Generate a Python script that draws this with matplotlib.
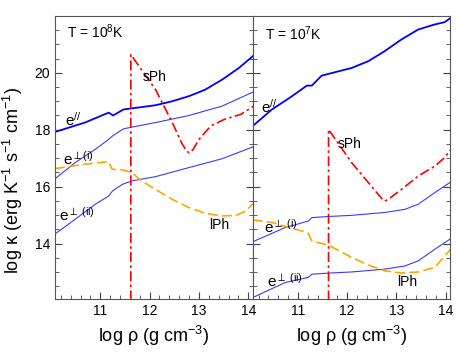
import numpy as np
import matplotlib
matplotlib.use('Agg')
import matplotlib.pyplot as plt
from matplotlib.ticker import MultipleLocator

plt.rcParams['font.family'] = ['Liberation Sans', 'DejaVu Sans']
plt.rcParams['mathtext.fontset'] = 'custom'
plt.rcParams['mathtext.rm'] = 'Liberation Sans'
plt.rcParams['mathtext.it'] = 'Liberation Sans:italic'

# ---- T = 1e8 K (left panel) ----
l_epar_x = [10.08, 10.69, 11.17, 11.26, 11.47, 11.64, 12.12, 12.46, 12.8, 13.13, 13.47, 13.81, 14.13]
l_epar_y = [17.92, 18.25, 18.6, 18.5, 18.71, 18.75, 18.86, 19.0, 19.18, 19.41, 19.76, 20.17, 20.64]
l_ei_x = [10.08, 10.49, 10.9, 11.17, 11.25, 11.47, 11.64, 12.12, 12.8, 13.47, 14.13]
l_ei_y = [16.27, 16.84, 17.31, 17.66, 17.78, 18.03, 18.09, 18.25, 18.5, 18.83, 19.35]
l_eii_x = [10.08, 10.49, 10.9, 11.17, 11.25, 11.45, 11.64, 12.12, 12.8, 13.47, 14.13]
l_eii_y = [14.33, 14.85, 15.38, 15.67, 15.85, 16.08, 16.2, 16.35, 16.67, 16.98, 17.42]
l_lph_x = [10.08, 10.66, 11.17, 11.24, 11.47, 11.64, 11.84, 12.12, 12.46, 12.8, 13.13, 13.47, 13.75, 13.95, 14.13]
l_lph_y = [16.63, 16.78, 16.88, 16.61, 16.58, 16.49, 16.2, 15.9, 15.55, 15.26, 15.06, 14.97, 14.99, 15.14, 15.46]
l_sph_x = [11.62, 11.62, 12.12, 12.46, 12.66, 12.74, 12.8, 12.88, 13.0, 13.24, 13.51, 13.85, 14.13]
l_sph_y = [12.0, 20.64, 19.41, 18.25, 17.5, 17.28, 17.18, 17.3, 17.66, 18.13, 18.36, 18.54, 18.85]

# ---- T = 1e7 K (right panel) ----
r_epar_x = [10.08, 10.47, 10.88, 11.18, 11.28, 11.48, 11.75, 12.09, 12.43, 12.76, 13.1, 13.44, 13.78, 13.98, 14.1]
r_epar_y = [18.13, 18.71, 19.18, 19.55, 19.55, 19.9, 20.02, 20.17, 20.41, 20.76, 21.17, 21.52, 21.7, 21.78, 21.93]
r_ei_x = [10.08, 10.74, 11.21, 11.28, 11.62, 12.09, 12.76, 13.17, 13.44, 13.78, 14.1]
r_ei_y = [14.06, 14.56, 14.79, 14.91, 14.95, 14.99, 15.09, 15.2, 15.38, 15.79, 16.16]
r_eii_x = [10.08, 10.74, 11.21, 11.28, 11.62, 12.09, 12.76, 13.17, 13.44, 13.78, 14.1]
r_eii_y = [12.1, 12.63, 12.81, 12.92, 12.96, 13.0, 13.1, 13.21, 13.39, 13.8, 14.17]
r_lph_x = [10.08, 10.47, 10.74, 11.08, 11.2, 11.28, 11.62, 12.09, 12.43, 12.76, 13.1, 13.44, 13.78, 14.1]
r_lph_y = [14.83, 14.74, 14.6, 14.44, 14.39, 14.09, 13.94, 13.51, 13.24, 13.04, 12.96, 13.0, 13.16, 13.8]
r_sph_x = [11.62, 11.62, 12.09, 12.43, 12.7, 12.76, 12.84, 13.1, 13.44, 13.78, 13.98, 14.1]
r_sph_y = [12.0, 18.01, 16.84, 16.14, 15.58, 15.49, 15.56, 15.9, 16.37, 16.72, 17.02, 17.3]

xticks = [11, 12, 13, 14]
yticks = [14, 16, 18, 20]

fig = plt.figure(figsize=(4.57, 3.53), dpi=100)
axL = fig.add_axes([0.120, 0.153, 0.433, 0.802])
axR = fig.add_axes([0.553, 0.153, 0.432, 0.802], sharey=axL)

blue = '#0000ff'
thin = '#3a3aff'
dashdot = (0, (6, 2, 1.5, 2))

def draw(ax, epar, ei, eii, lph, sph):
  ax.plot(*epar, color=blue, lw=1.3)
  ax.plot(*ei, color=thin, lw=0.8)
  ax.plot(*eii, color=thin, lw=0.8)
  ax.plot(*lph, color='orange', lw=1.2, ls=(0, (6, 2.5)))
  ax.plot(*sph, color='red', lw=1.2, ls=dashdot)
  ax.set_xlim(10.08, 14.09)
  ax.set_ylim(12.05, 22.0)
  ax.set_xticks(xticks)
  ax.set_yticks(yticks)
  ax.xaxis.set_minor_locator(MultipleLocator(0.2))
  ax.yaxis.set_minor_locator(MultipleLocator(0.5))
  ax.tick_params(which='both', direction='in', left=True, right=True, top=False, labelsize=10, colors='#444444', labelcolor='black')
  ax.tick_params(which='major', length=5)
  ax.tick_params(which='minor', length=3)
  for s in ax.spines.values():
    s.set_color('#555555')
  ax.set_xlabel('log ρ (g cm$^{-3}$)', fontsize=13, labelpad=4)

draw(axL, (l_epar_x, l_epar_y), (l_ei_x, l_ei_y), (l_eii_x, l_eii_y), (l_lph_x, l_lph_y), (l_sph_x, l_sph_y))
draw(axR, (r_epar_x, r_epar_y), (r_ei_x, r_ei_y), (r_eii_x, r_eii_y), (r_lph_x, r_lph_y), (r_sph_x, r_sph_y))
plt.setp(axR.get_yticklabels(), visible=False)

axL.set_ylabel('log κ (erg K$^{-1}$ s$^{-1}$ cm$^{-1}$)', fontsize=13)
axL.yaxis.set_label_coords(-0.149, 0.417)

fs = 10
axL.text(10.32, 21.23, r'T = 10$^{8}$K', fontsize=fs)
axR.text(10.33, 21.17, r'T = 10$^{7}$K', fontsize=fs)
axL.text(11.87, 19.7, 'sPh', fontsize=fs)
axR.text(11.81, 17.37, 'sPh', fontsize=fs)
axL.text(13.2, 14.5, 'lPh', fontsize=fs)
axR.text(13.02, 12.5, 'lPh', fontsize=fs)
axL.text(10.28, 18.13, r'e$^{//}$', fontsize=fs + 1)
axR.text(10.24, 18.6, r'e$^{//}$', fontsize=fs + 1)
axL.text(10.25, 16.78, r'e$^{\perp\mathrm{(i)}}$', fontsize=fs + 1)
axL.text(10.17, 14.8, r'e$^{\perp\ \mathrm{(ii)}}$', fontsize=fs + 1)
axR.text(10.3, 14.38, r'e$^{\perp\ \mathrm{(i)}}$', fontsize=fs + 1)
axR.text(10.36, 12.47, r'e$^{\perp\ \mathrm{(ii)}}$', fontsize=fs + 1)

fig.savefig('out.png', dpi=100)
